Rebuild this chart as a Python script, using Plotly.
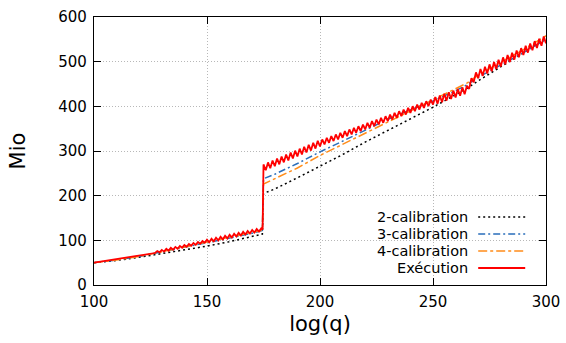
import plotly.graph_objects as go

# ---- data ----
exec_x = (list(range(100, 175)) + [174.6] + list(range(175, 301)))
exec_y = [
    50, 50.8, 51.6, 52.4, 53.2, 54, 54.8, 55.6, 56.4, 57.2,
    58, 58.8, 59.6, 60.4, 61.2, 62, 62.8, 63.6, 64.4, 65.2,
    66, 66.8, 67.6, 68.4, 69.2, 70, 70.8, 71.6,
    76, 73.1, 78.7, 74.8, 81, 76.9, 83.1, 79, 85.3, 81.2,
    87.4, 83.5, 89.6, 85.7, 91.8, 87.9, 94, 89.9, 96.1, 92.2,
    98.3, 94.4, 101.5, 95.6, 103.7, 97.8, 105.9, 99.9, 108, 102.1,
    110.2, 104.3, 112.4, 106.5, 114.6, 108.7, 116.8, 110.8, 118.9, 113,
    121.1, 115.2, 123.3, 117.4, 125.5, 119.6, 126.7,
    124,
    270, 257, 274.4, 261.4, 278.8, 265.8, 283.2, 270.2, 287.6, 274.6,
    292, 279, 296.4, 283.4, 300.8, 287.8, 305.2, 292.2, 309.6, 296.6,
    314, 301, 318.4, 305.4, 322.8, 310,
    325.9, 314.7, 329.6, 318.4, 333.3, 322.2, 337, 325.9, 340.7, 329.6,
    344.5, 333.3, 348.2, 337, 351.9, 340.8, 355.6, 344.5, 359.3, 348.2,
    363.1, 351.9, 366.8, 355.6, 370.5, 359.4, 374.2, 363.1, 377.9, 366.8,
    381.7, 370.5, 385.4, 374.2, 389.1, 378, 392.8, 381.7, 396.5, 385.4,
    400.3, 389.1, 404, 392.8, 407.7, 396.6, 411.4, 400.3, 415.1, 404,
    420.8, 405.6, 424.4, 409.2, 428, 412.8, 431.6, 416.4, 435.2, 420,
    438.8, 423.6, 442.4, 427.2, 446,
    439, 463, 454, 476, 463,
    483.6, 468.2, 488.8, 473.4, 494, 478.6, 499.2, 483.8, 504.4, 489,
    509.6, 494.2, 514.8, 499.4, 520, 504.6, 525.2, 509.8, 530.4, 515,
    535.6, 520.2, 540.8, 525.4, 546, 530.6, 551.2, 535.8, 556.4, 541,
]

cal_x = [100, 110, 120, 130, 140, 150, 160, 170, 174.5, 175, 180, 190, 200,
         210, 220, 230, 240, 250, 260, 265, 270, 280, 290, 300]
cal2_y = [50, 55, 62, 70, 78, 87, 97, 108, 114, 205, 215, 240, 266,
          292, 320, 346, 371, 398, 426, 440, 457, 488, 520, 552]
cal3_y = [50, 56, 64, 74, 84, 95, 105, 116, 122, 238, 248, 272, 298,
          322, 346, 371, 392, 412, 435, 448, 465, 492, 520, 550]
cal4_y = [50, 56, 64, 74, 85, 96, 107, 118, 123, 226, 238, 262, 290,
          315, 340, 366, 390, 415, 440, 452, 470, 498, 527, 558]

x_ticks = [100, 150, 200, 250, 300]
y_ticks = [0, 100, 200, 300, 400, 500, 600]

names = ["2-calibration", "3-calibration", "4-calibration", "Exécution"]
colors = ["#000000", "#2a6ebb", "#ff8c1a", "#ff0000"]
dashes = ["2px,3px", "7px,3px,2px,3px", "dashdot", "solid"]
widths = [1.5, 1.5, 1.5, 1.8]

fig = go.Figure()
series = [(cal_x, cal2_y), (cal_x, cal3_y), (cal_x, cal4_y), (exec_x, exec_y)]
for (xs, ys), n, c, d, w in zip(series, names, colors, dashes, widths):
    fig.add_trace(go.Scatter(x=xs, y=ys, mode="lines", name=n,
                             line=dict(color=c, width=w, dash=d),
                             showlegend=False))

# custom legend: text right-aligned, sample to the right (gnuplot style)
leg_rows = [0.2537, 0.1903, 0.1269, 0.0634]
for n, c, d, w, ry in zip(names, colors, dashes, widths, leg_rows):
    fig.add_annotation(x=0.829, y=ry, xref="paper", yref="paper",
                       text=n, showarrow=False, xanchor="right", yanchor="middle",
                       borderpad=0,
                       font=dict(family="DejaVu Sans", size=14.5, color="#000"))
    fig.add_shape(type="line", xref="paper", yref="paper",
                  x0=0.85, x1=0.954, y0=ry, y1=ry,
                  line=dict(color=c, width=w, dash=d))

axis_common = dict(showline=True, linecolor="#000", linewidth=1.2, mirror="ticks",
                   ticks="inside", ticklen=7, tickcolor="#000",
                   showgrid=True, gridcolor="#b8b8b8", griddash="1px,2px", gridwidth=1,
                   zeroline=False, automargin=False,
                   tickfont=dict(family="DejaVu Sans", size=15, color="#000"))

fig.update_layout(
    width=566, height=343,
    margin=dict(l=94, r=20, t=17, b=58),
    paper_bgcolor="white", plot_bgcolor="white",
    xaxis=dict(range=[100, 300], tickvals=x_ticks, ticklabelstandoff=3,
               title=dict(text="log(q)", font=dict(family="DejaVu Sans", size=21, color="#000"),
                          standoff=6),
               **axis_common),
    yaxis=dict(range=[0, 600], tickvals=y_ticks, ticklabelstandoff=3,
               title=dict(text="Mio", font=dict(family="DejaVu Sans", size=21, color="#000"),
                          standoff=26),
               **axis_common),
)

fig.write_html("out.html")
